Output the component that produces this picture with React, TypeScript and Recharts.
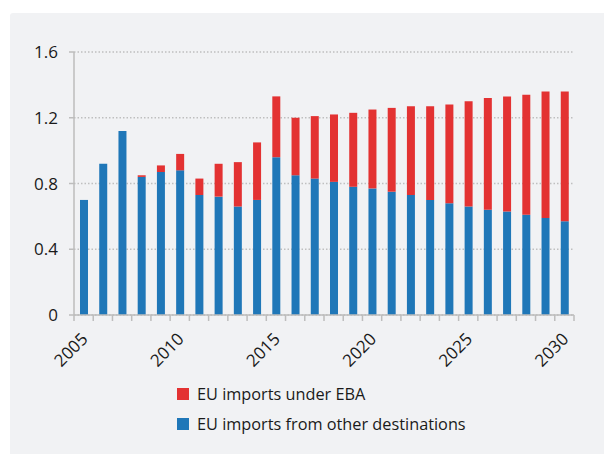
import React from 'react';
import { BarChart, Bar, XAxis, YAxis, CartesianGrid } from 'recharts';

const years = [
  2005, 2006, 2007, 2008, 2009, 2010, 2011, 2012, 2013, 2014, 2015, 2016, 2017,
  2018, 2019, 2020, 2021, 2022, 2023, 2024, 2025, 2026, 2027, 2028, 2029, 2030,
];
const otherDestinations = [
  0.70, 0.92, 1.12, 0.84, 0.87, 0.88, 0.73, 0.72, 0.66, 0.70, 0.96, 0.85, 0.83,
  0.81, 0.78, 0.77, 0.75, 0.73, 0.70, 0.68, 0.66, 0.64, 0.63, 0.61, 0.59, 0.57,
];
const underEBA = [
  0, 0, 0, 0.01, 0.04, 0.10, 0.10, 0.20, 0.27, 0.35, 0.37, 0.35, 0.38,
  0.41, 0.45, 0.48, 0.51, 0.54, 0.57, 0.60, 0.64, 0.68, 0.70, 0.73, 0.77, 0.79,
];
const yTicks = [0, 0.4, 0.8, 1.2, 1.6];
const labelEvery = 5;
const seriesNames = ['EU imports under EBA', 'EU imports from other destinations'];

const RED = '#e33232';
const BLUE = '#1f77b8';
const AXIS = '#bdbdbd';
const TEXT = '#1a1a1a';
const FONT = '"Open Sans", sans-serif';

const W = 604;
const H = 454;
const MARGIN = { top: 52, right: 30, bottom: 79, left: 0 };
const Y_AXIS_W = 74;
const X_AXIS_H = 60;
const PLOT_W = W - MARGIN.left - MARGIN.right - Y_AXIS_W;

const data = years.map((y, i) => ({
  year: String(y),
  other: otherDestinations[i],
  eba: underEBA[i],
}));

const XTick = (props: any) => {
  const { x, y, payload } = props;
  const yr = Number(payload.value);
  const idx = years.indexOf(yr);
  const bw = PLOT_W / years.length;
  const showLabel = yr % labelEvery === 0;
  const tx = x + 1;
  const ty = y + 21;
  return (
    <g>
      <line x1={x - bw / 2} x2={x - bw / 2} y1={y} y2={y + 6} stroke={AXIS} strokeWidth={1.5} />
      {idx === years.length - 1 && (
        <line x1={x + bw / 2} x2={x + bw / 2} y1={y} y2={y + 6} stroke={AXIS} strokeWidth={1.5} />
      )}
      {showLabel && (
        <text
          x={tx}
          y={ty}
          dy="0.35em"
          textAnchor="end"
          transform={`rotate(-45 ${tx} ${ty})`}
          fill={TEXT}
          fontSize={17}
          fontFamily={FONT}
        >
          {payload.value}
        </text>
      )}
    </g>
  );
};

export default function App() {
  const colors = [RED, BLUE];
  return (
    <div style={{ position: 'absolute', left: 0, top: 0, width: W, height: H, background: '#ffffff', overflow: 'hidden' }}>
      <div
        style={{
          position: 'absolute',
          left: 10,
          top: 13,
          width: W - 10,
          height: H - 13,
          background: '#f1f2f4',
          borderTopLeftRadius: 3,
        }}
      />
      <div style={{ position: 'absolute', left: 0, top: 0 }}>
        <BarChart width={W} height={H} data={data} margin={MARGIN} barSize={8}>
          <CartesianGrid
            vertical={false}
            stroke="#bfbfbf"
            strokeWidth={1.5}
            strokeDasharray="1.5 2"
          />
          <XAxis
            dataKey="year"
            interval={0}
            height={X_AXIS_H}
            tickLine={false}
            tickSize={0}
            tickMargin={0}
            axisLine={{ stroke: AXIS, strokeWidth: 1.5 }}
            tick={<XTick />}
          />
          <YAxis
            width={Y_AXIS_W}
            domain={[0, 1.6]}
            ticks={yTicks}
            interval={0}
            tickSize={5}
            tickMargin={11}
            axisLine={{ stroke: AXIS, strokeWidth: 1.5 }}
            tickLine={{ stroke: AXIS, strokeWidth: 1.5 }}
            tick={{ fill: TEXT, fontSize: 17, fontFamily: FONT }}
          />
          <Bar dataKey="other" stackId="a" fill={BLUE} isAnimationActive={false} />
          <Bar dataKey="eba" stackId="a" fill={RED} isAnimationActive={false} />
        </BarChart>
      </div>
      {seriesNames.map((name, i) => (
        <div
          key={name}
          style={{
            position: 'absolute',
            left: 177,
            top: 385 + i * 30,
            height: 18,
            display: 'flex',
            alignItems: 'center',
            fontFamily: FONT,
            fontSize: 16.3,
            color: TEXT,
            whiteSpace: 'nowrap',
          }}
        >
          <span style={{ display: 'inline-block', width: 12, height: 12, background: colors[i], marginRight: 8 }} />
          <span>{name}</span>
        </div>
      ))}
    </div>
  );
}
